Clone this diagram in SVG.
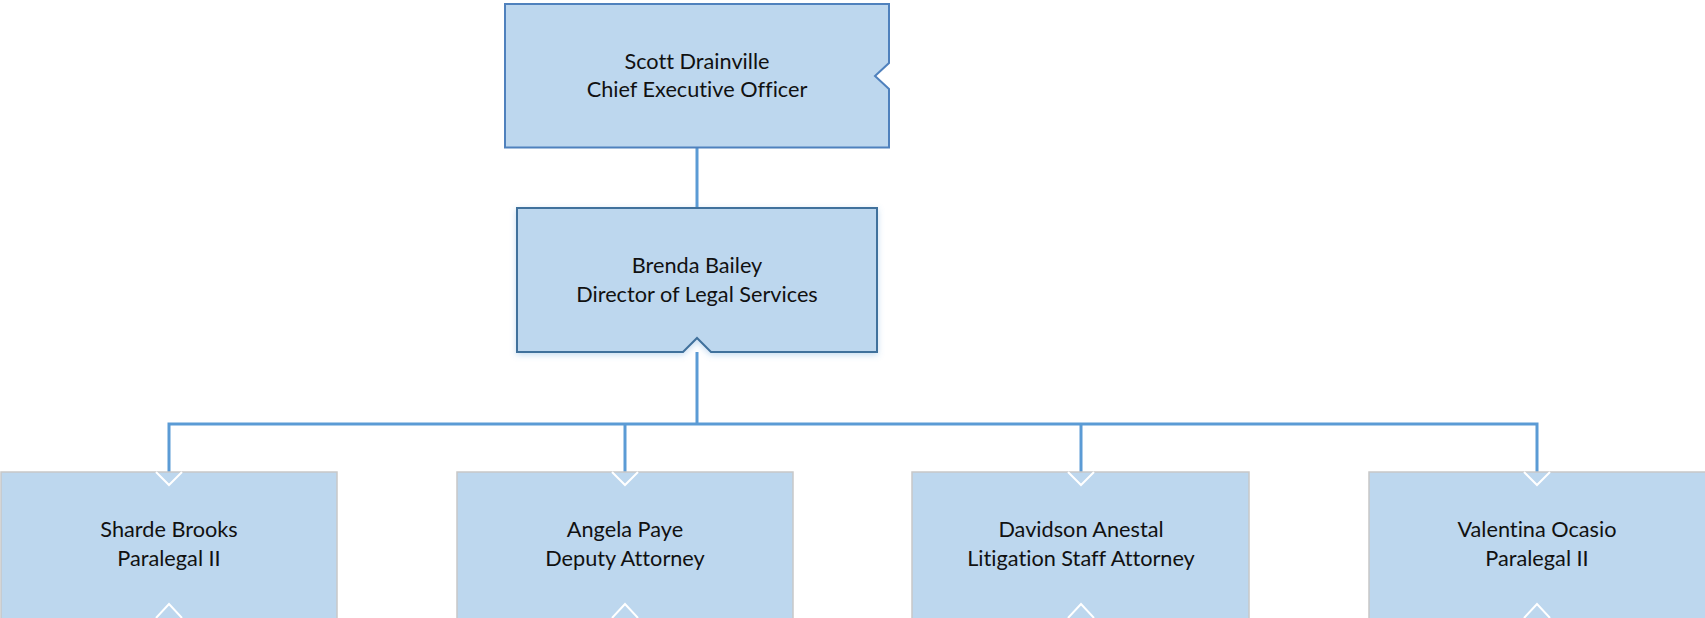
<svg xmlns="http://www.w3.org/2000/svg" width="1705" height="618" viewBox="0 0 1705 618">
<defs>
<style>
.t{font-family:Lato,"Liberation Sans",sans-serif;font-size:21.7px;fill:#111;text-anchor:middle;font-variant-ligatures:none;font-feature-settings:"liga" 0}
.c{stroke:#5B9BD5;stroke-width:3;fill:none}
.chev{fill:none;stroke:#fff;stroke-width:2}
.low{fill:#BDD7EE;stroke:#C8C8C8;stroke-width:1.5}
</style>
<filter id="sh" x="-10%" y="-10%" width="120%" height="130%">
<feDropShadow dx="0" dy="2" stdDeviation="3" flood-color="#5B9BD5" flood-opacity="0.35"/>
</filter>
</defs>
<rect width="1705" height="618" fill="#fff"/>
<g id="connectors">
<line class="c" x1="697" y1="147" x2="697" y2="208"/>
<line class="c" x1="697" y1="352" x2="697" y2="424"/>
<polyline class="c" points="169,472 169,424 1537,424 1537,472"/>
<line class="c" x1="625" y1="424" x2="625" y2="472"/>
<line class="c" x1="1081" y1="424" x2="1081" y2="472"/>
</g>
<g id="ceo">
<path d="M505,4 H889 V63 L875,76 L889,89 V147.5 H505 Z" fill="#BDD7EE" stroke="#4F81BD" stroke-width="2"/>
<text class="t" x="697" y="69">Scott Drainville</text>
<text class="t" x="697" y="97">Chief Executive Officer</text>
</g>
<g id="director">
<path d="M517,208 H877 V352 H711 L697,338 L683,352 H517 Z" fill="#BDD7EE" stroke="#41719C" stroke-width="2" filter="url(#sh)"/>
<text class="t" x="697" y="273">Brenda Bailey</text>
<text class="t" x="697" y="302">Director of Legal Services</text>
</g>
<g id="sharde">
<rect class="low" x="1" y="472" width="336" height="150"/>
<polyline class="chev" points="156,472 169,485 182,472"/>
<polyline class="chev" points="156,618 169,604 182,618"/>
<text class="t" x="169" y="537">Sharde Brooks</text>
<text class="t" x="169" y="566">Paralegal II</text>
</g>
<g id="angela">
<rect class="low" x="457" y="472" width="336" height="150"/>
<polyline class="chev" points="612,472 625,485 638,472"/>
<polyline class="chev" points="612,618 625,604 638,618"/>
<text class="t" x="625" y="537">Angela Paye</text>
<text class="t" x="625" y="566">Deputy Attorney</text>
</g>
<g id="davidson">
<rect class="low" x="912" y="472" width="337" height="150"/>
<polyline class="chev" points="1068,472 1081,485 1094,472"/>
<polyline class="chev" points="1068,618 1081,604 1094,618"/>
<text class="t" x="1081" y="537">Davidson Anestal</text>
<text class="t" x="1081" y="566">Litigation Staff Attorney</text>
</g>
<g id="valentina">
<rect class="low" x="1369" y="472" width="340" height="150"/>
<polyline class="chev" points="1524,472 1537,485 1550,472"/>
<polyline class="chev" points="1524,618 1537,604 1550,618"/>
<text class="t" x="1537" y="537">Valentina Ocasio</text>
<text class="t" x="1537" y="566">Paralegal II</text>
</g>
</svg>
